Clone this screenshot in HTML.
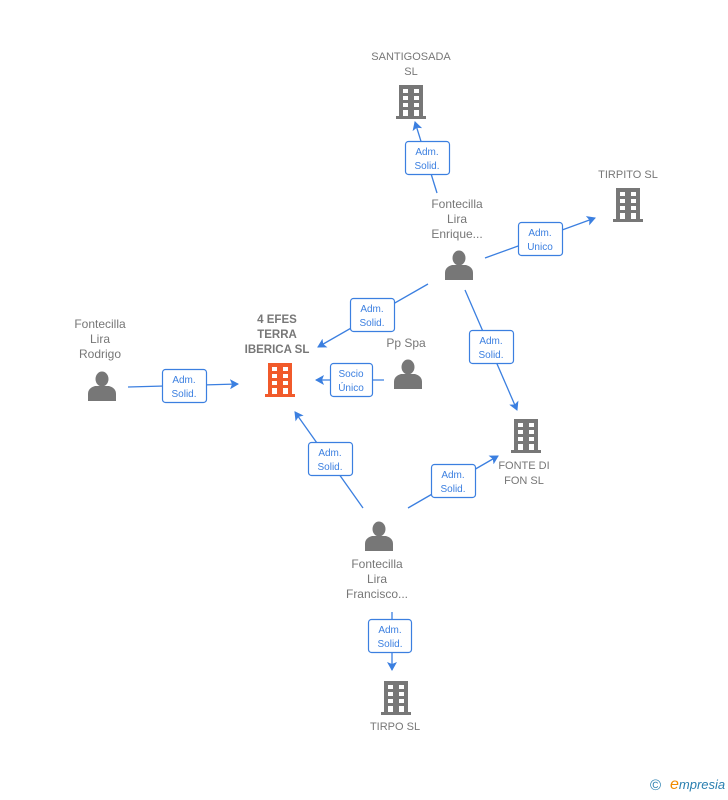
<!DOCTYPE html>
<html><head><meta charset="utf-8"><style>
body{margin:0;background:#fff;}
svg text{font-family:"Liberation Sans",sans-serif;}
</style></head><body>
<svg width="728" height="795" viewBox="0 0 728 795" xmlns="http://www.w3.org/2000/svg">
<defs>
<g id="bld">
<rect x="-12" y="0" width="24" height="31"/>
<rect x="-15" y="31" width="30" height="3"/>
<g fill="#fff">
<rect x="-8" y="4" width="5" height="4"/><rect x="3" y="4" width="5" height="4"/>
<rect x="-8" y="11" width="5" height="4"/><rect x="3" y="11" width="5" height="4"/>
<rect x="-8" y="18" width="5" height="4"/><rect x="3" y="18" width="5" height="4"/>
<rect x="-8" y="25" width="5" height="6"/><rect x="3" y="25" width="5" height="6"/>
</g>
</g>
<g id="per">
<ellipse cx="0" cy="-8" rx="6.5" ry="7.5"/>
<path d="M-14 14 L-14 7 Q-14 1 -7 -1 L7 -1 Q14 1 14 7 L14 14 Z"/>
</g>
<marker id="ar" markerWidth="10" markerHeight="10" refX="8" refY="5" orient="auto" markerUnits="userSpaceOnUse">
<path d="M0 0 L9 5 L0 10 L2 5 Z" fill="#3b7fe0"/>
</marker>
</defs>
<g stroke="#3b7fe0" stroke-width="1.3" fill="none" marker-end="url(#ar)">
<line x1="437" y1="193" x2="415" y2="122"/>
<line x1="485" y1="258" x2="595" y2="218"/>
<line x1="428" y1="284" x2="318" y2="347"/>
<line x1="465" y1="290" x2="517" y2="410"/>
<line x1="384" y1="380" x2="316" y2="380"/>
<line x1="128" y1="387" x2="238" y2="384"/>
<line x1="363" y1="508" x2="295" y2="412"/>
<line x1="408" y1="508" x2="498" y2="456"/>
<line x1="392" y1="612" x2="392" y2="670"/>
</g>
<g fill="#fff" stroke="#3b7fe0" stroke-width="1.2">
<rect x="405.5" y="141.5" width="44" height="33" rx="3"/>
<rect x="518.5" y="222.5" width="44" height="33" rx="3"/>
<rect x="350.5" y="298.5" width="44" height="33" rx="3"/>
<rect x="469.5" y="330.5" width="44" height="33" rx="3"/>
<rect x="330.5" y="363.5" width="42" height="33" rx="3"/>
<rect x="162.5" y="369.5" width="44" height="33" rx="3"/>
<rect x="308.5" y="442.5" width="44" height="33" rx="3"/>
<rect x="431.5" y="464.5" width="44" height="33" rx="3"/>
<rect x="368.5" y="619.5" width="43" height="33" rx="3"/>
</g>
<g fill="#3b7fe0" font-size="10" text-anchor="middle">
<text x="427" y="155">Adm.</text><text x="427" y="169">Solid.</text>
<text x="540" y="236">Adm.</text><text x="540" y="250">Unico</text>
<text x="372" y="312">Adm.</text><text x="372" y="326">Solid.</text>
<text x="491" y="344">Adm.</text><text x="491" y="358">Solid.</text>
<text x="351" y="377">Socio</text><text x="351" y="391">Único</text>
<text x="184" y="383">Adm.</text><text x="184" y="397">Solid.</text>
<text x="330" y="456">Adm.</text><text x="330" y="470">Solid.</text>
<text x="453" y="478">Adm.</text><text x="453" y="492">Solid.</text>
<text x="390" y="633">Adm.</text><text x="390" y="647">Solid.</text>
</g>
<g fill="#777">
<use href="#bld" x="411" y="85"/>
<use href="#bld" x="628" y="188"/>
<use href="#bld" x="526" y="419"/>
<use href="#bld" x="396" y="681"/>
<use href="#per" x="459" y="266"/>
<use href="#per" x="408" y="375"/>
<use href="#per" x="102" y="387"/>
<use href="#per" x="379" y="537"/>
</g>
<use href="#bld" x="280" y="363" fill="#f15a2b"/>
<g fill="#777" font-size="12" text-anchor="middle">
<text x="411" y="60" font-size="11">SANTIGOSADA</text><text x="411" y="75" font-size="11">SL</text>
<text x="628" y="178" font-size="11">TIRPITO  SL</text>
<text x="457" y="208">Fontecilla</text><text x="457" y="223">Lira</text><text x="457" y="238">Enrique...</text>
<text x="277" y="323" font-weight="bold" font-size="11.5">4 EFES</text><text x="277" y="338" font-weight="bold" font-size="11.5">TERRA</text><text x="277" y="353" font-weight="bold" font-size="11.5">IBERICA  SL</text>
<text x="406" y="347">Pp Spa</text>
<text x="100" y="328">Fontecilla</text><text x="100" y="343">Lira</text><text x="100" y="358">Rodrigo</text>
<text x="524" y="469" font-size="11">FONTE DI</text><text x="524" y="484" font-size="11">FON  SL</text>
<text x="377" y="568">Fontecilla</text><text x="377" y="583">Lira</text><text x="377" y="598">Francisco...</text>
<text x="395" y="730" font-size="11">TIRPO SL</text>
</g>
<text x="650" y="790" font-size="15" fill="#2a7fb0" font-family="Liberation Sans,sans-serif">©</text>
<text x="670" y="789" font-size="13" fill="#2a7fb0" font-style="italic" font-family="Liberation Serif,serif"><tspan fill="#f08a00" font-size="16">e</tspan>mpresia</text>
</svg>
</body></html>
